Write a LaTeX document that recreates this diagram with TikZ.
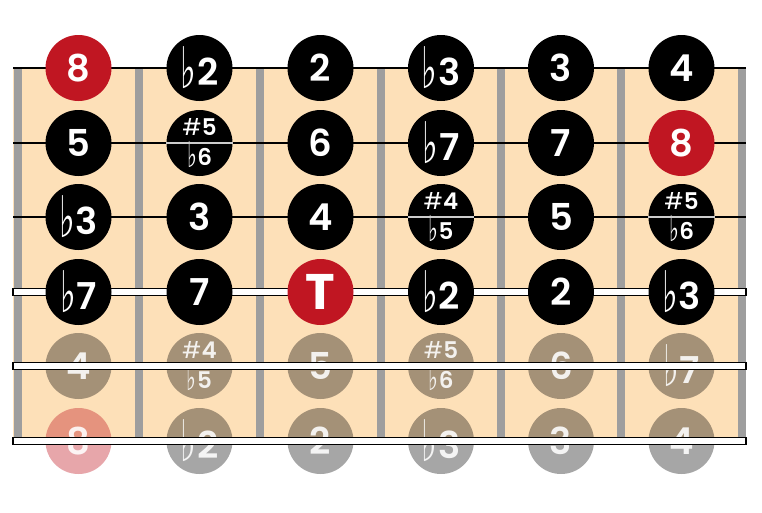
\documentclass[tikz,border=0pt]{standalone}
\usepackage{fontspec}
\setmainfont{Poppins}[BoldFont={Poppins SemiBold}]
\newfontfamily\heavyfont{Poppins Bold}
\newfontfamily\symf{DejaVu Sans}
\definecolor{wood}{RGB}{253,224,184}
\definecolor{fretgrey}{RGB}{158,158,158}
\definecolor{rootred}{RGB}{192,22,34}
\definecolor{sepgrey}{RGB}{205,205,205}
\newcommand{\fl}{\raisebox{-0.08em}{\scalebox{0.9}[1.55]{\symf\mdseries ♭}}\kern0.02em}
\newcommand{\sh}{{\mdseries\#}}
\begin{document}
\begin{tikzpicture}[x=1pt,y=-1pt,
  note/.style={circle, minimum size=66pt, inner sep=0pt, fill=black, text=white,
    font=\fontsize{37}{37}\selectfont\bfseries},
  rootnote/.style={note, fill=rootred},
  ghost/.style={note, fill opacity=0.35, text opacity=0.88},
  ghostroot/.style={note, fill=rootred, fill opacity=0.38, text opacity=0.88},
  twotier/.style={align=center, font=\fontsize{23}{30}\selectfont\bfseries},
  tonic/.style={rootnote, font=\fontsize{50}{50}\selectfont\heavyfont},
  sepline/.style={draw=sepgrey, line width=1.5pt},
  plainstring/.style={draw=black, line width=2.5pt},
  woundstring/.style={draw=black, fill=white, line width=1.2pt},
  fretbar/.style={fill=fretgrey}
]
\useasboundingbox (0,0) rectangle (762,512);
\fill[white] (0,0) rectangle (762,512);
% wood
\fill[wood] (13,68) rectangle (746,445);
% frets
\foreach \fx in {17.5,139,260,381,501,621,742}
  \fill[fretbar] (\fx-4,68) rectangle (\fx+4,445);
% string end points
\foreach \r/\sy in {1/68,2/143,3/217,4/292,5/366,6/441}{
  \coordinate (sL\r) at (13,\sy);
  \coordinate (sR\r) at (746,\sy);
}
\draw[plainstring] (sL1) -- (sR1);
\draw[plainstring] (sL2) -- (sR2);
\draw[plainstring] (sL3) -- (sR3);
\draw[woundstring] ([yshift=3.8pt]sL4) rectangle ([yshift=-3.8pt]sR4);
% faded rows
\node[ghost] (n51) at (78.5,366) {4};
\node[ghost,twotier] (n52) at (199.5,366) {\sh4\\\fl5};
\node[ghost] (n53) at (320.5,366) {5};
\node[ghost,twotier] (n54) at (441,366) {\sh5\\\fl6};
\node[ghost] (n55) at (561,366) {6};
\node[ghost] (n56) at (681.5,366) {\fl7};
\node[ghostroot] (n61) at (78.5,441) {8};
\node[ghost] (n62) at (199.5,441) {\fl2};
\node[ghost] (n63) at (320.5,441) {2};
\node[ghost] (n64) at (441,441) {\fl3};
\node[ghost] (n65) at (561,441) {3};
\node[ghost] (n66) at (681.5,441) {4};
\foreach \n in {n52,n54}
  \draw[sepline, draw opacity=0.7] (\n.west) -- (\n.east);
\draw[woundstring] ([yshift=3.8pt]sL5) rectangle ([yshift=-3.8pt]sR5);
\draw[woundstring] ([yshift=3.8pt]sL6) rectangle ([yshift=-3.8pt]sR6);
% row 1
\node[rootnote] (n11) at (78.5,68) {8};
\node[note] (n12) at (199.5,68) {\fl2};
\node[note] (n13) at (320.5,68) {2};
\node[note] (n14) at (441,68) {\fl3};
\node[note] (n15) at (561,68) {3};
\node[note] (n16) at (681.5,68) {4};
% row 2
\node[note] (n21) at (78.5,143) {5};
\node[note,twotier] (n22) at (199.5,143) {\sh5\\\fl6};
\node[note] (n23) at (320.5,143) {6};
\node[note] (n24) at (441,143) {\fl7};
\node[note] (n25) at (561,143) {7};
\node[rootnote] (n26) at (681.5,143) {8};
% row 3
\node[note] (n31) at (78.5,217) {\fl3};
\node[note] (n32) at (199.5,217) {3};
\node[note] (n33) at (320.5,217) {4};
\node[note,twotier] (n34) at (441,217) {\sh4\\\fl5};
\node[note] (n35) at (561,217) {5};
\node[note,twotier] (n36) at (681.5,217) {\sh5\\\fl6};
% row 4
\node[note] (n41) at (78.5,292) {\fl7};
\node[note] (n42) at (199.5,292) {7};
\node[tonic] (n43) at (320.5,292) {T};
\node[note] (n44) at (441,292) {\fl2};
\node[note] (n45) at (561,292) {2};
\node[note] (n46) at (681.5,292) {\fl3};
% separators
\foreach \n in {n22,n34,n36}
  \draw[sepline] (\n.west) -- (\n.east);
\end{tikzpicture}
\end{document}
